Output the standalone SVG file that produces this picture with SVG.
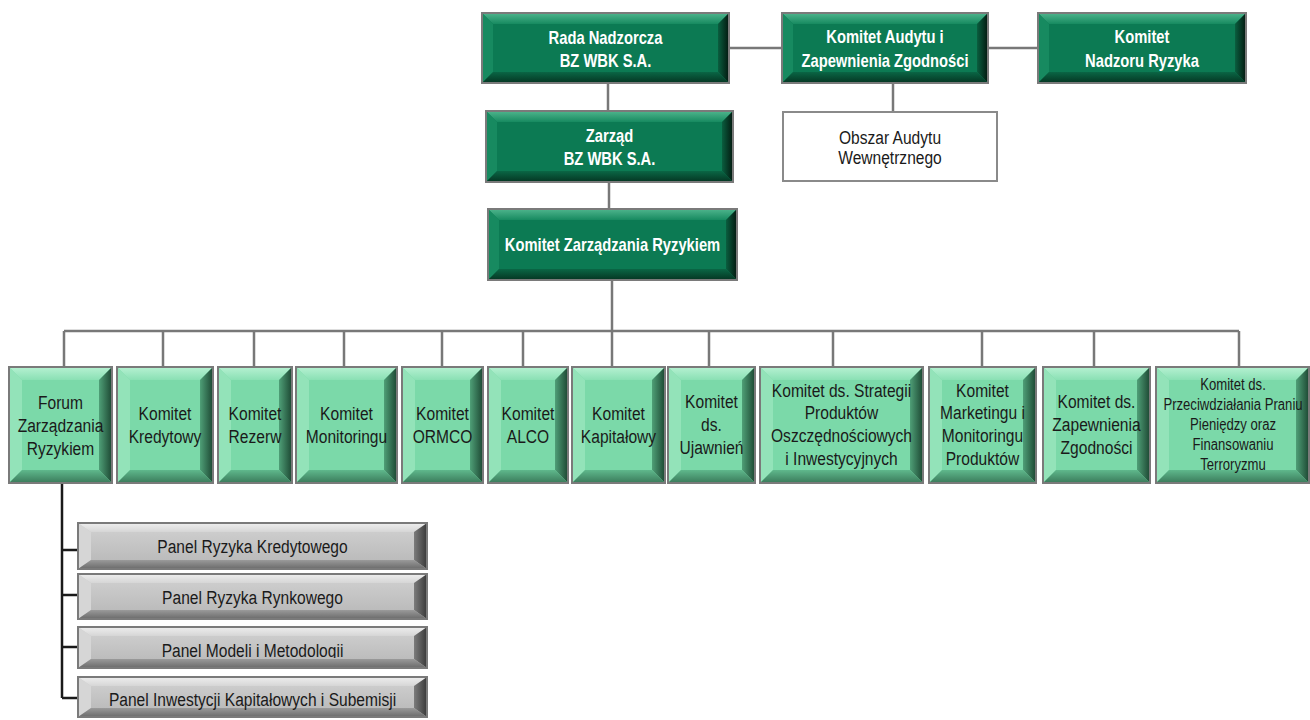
<svg xmlns="http://www.w3.org/2000/svg" width="1310" height="720" viewBox="0 0 1310 720">
<defs>
<linearGradient id="dkT" x1="0" y1="0" x2="0" y2="1"><stop offset="0" stop-color="#4fb58d"/><stop offset="1" stop-color="#178a60"/></linearGradient>
<linearGradient id="dkR" x1="0" y1="0" x2="1" y2="0"><stop offset="0" stop-color="#0a5e3f"/><stop offset="1" stop-color="#03180f"/></linearGradient>
<linearGradient id="dkB" x1="0" y1="0" x2="0" y2="1"><stop offset="0" stop-color="#0a6645"/><stop offset="1" stop-color="#053522"/></linearGradient>
<linearGradient id="ltT" x1="0" y1="0" x2="0" y2="1"><stop offset="0" stop-color="#b6f1d2"/><stop offset="1" stop-color="#8ae0b4"/></linearGradient>
<linearGradient id="ltR" x1="0" y1="0" x2="1" y2="0"><stop offset="0" stop-color="#4f9f77"/><stop offset="1" stop-color="#1c4732"/></linearGradient>
<linearGradient id="ltB" x1="0" y1="0" x2="0" y2="1"><stop offset="0" stop-color="#5fb88c"/><stop offset="1" stop-color="#3a7a5a"/></linearGradient>
<linearGradient id="gyF" x1="0" y1="0" x2="0" y2="1"><stop offset="0" stop-color="#d2d2d2"/><stop offset="1" stop-color="#b6b6b6"/></linearGradient>
<linearGradient id="gyT" x1="0" y1="0" x2="0" y2="1"><stop offset="0" stop-color="#eeeeee"/><stop offset="1" stop-color="#d6d6d6"/></linearGradient>
<linearGradient id="gyR" x1="0" y1="0" x2="1" y2="0"><stop offset="0" stop-color="#7c7c7c"/><stop offset="1" stop-color="#383838"/></linearGradient>
<linearGradient id="gyB" x1="0" y1="0" x2="0" y2="1"><stop offset="0" stop-color="#9a9a9a"/><stop offset="1" stop-color="#6a6a6a"/></linearGradient>
<clipPath id="clipP3"><rect x="-200" y="627" width="400" height="31"/></clipPath>
<style>
text{font-family:"Liberation Sans",Arial,sans-serif;text-anchor:middle}
.dk .face{fill:#0c7a53}.dk .t{fill:url(#dkT)}.dk .l{fill:#178a60}.dk .r{fill:url(#dkR)}.dk .b{fill:url(#dkB)}
.dk text{fill:#ffffff;font-weight:bold;font-size:18px}
.lt .face{fill:#7bd9a9}.lt .t{fill:url(#ltT)}.lt .l{fill:#93e3b9}.lt .r{fill:url(#ltR)}.lt .b{fill:url(#ltB)}
.lt text,.gy text,.wh text{fill:#1a1a1a;font-size:19px}
.lt text.sm{font-size:16px}
.gy .face{fill:url(#gyF)}.gy .t{fill:url(#gyT)}.gy .l{fill:#d6d6d6}.gy .r{fill:url(#gyR)}.gy .b{fill:url(#gyB)}
.bd{fill:none;stroke:#7a7a7a;stroke-width:2}
.wh rect{fill:#ffffff;stroke:#8a8a8a;stroke-width:2}
.conn path{fill:none;stroke:#787878;stroke-width:2.5}
.conn path.blk{stroke:#1a1a1a;stroke-width:2.5}
</style>
</defs>

<g id="connectors" class="conn">
<path d="M729 48H782"/>
<path d="M988 48H1038"/>
<path d="M608 83V111"/>
<path d="M893 83V112"/>
<path d="M609 182V209"/>
<path d="M612 280V367"/>
<path d="M64 331H1239"/>
<path d="M64 331V367M163 331V367M254 331V367M344 331V367M442 331V367M523 331V367M709 331V367M833 331V367M982 331V367M1094 331V367M1239 331V367"/>
<path class="blk" d="M62 483V698M62 550H78M62 595H78M62 647H78M62 698H78"/>
</g>

<g id="rada" class="dk">
<rect class="face" x="482" y="13" width="247" height="70"/>
<polygon class="t" points="482,13 729,13 718,24 493,24"/>
<polygon class="l" points="482,13 493,24 493,72 482,83"/>
<polygon class="r" points="729,13 729,83 718,72 718,24"/>
<polygon class="b" points="482,83 729,83 718,72 493,72"/>
<rect class="bd" x="482" y="13" width="247" height="70"/>
<g transform="translate(605.5 0) scale(0.82 1)">
<text x="0" y="44">Rada Nadzorcza</text>
<text x="0" y="67">BZ WBK S.A.</text>
</g>
</g>

<g id="audyt" class="dk">
<rect class="face" x="782" y="13" width="206" height="70"/>
<polygon class="t" points="782,13 988,13 977,24 793,24"/>
<polygon class="l" points="782,13 793,24 793,72 782,83"/>
<polygon class="r" points="988,13 988,83 977,72 977,24"/>
<polygon class="b" points="782,83 988,83 977,72 793,72"/>
<rect class="bd" x="782" y="13" width="206" height="70"/>
<g transform="translate(885 0) scale(0.82 1)">
<text x="0" y="43">Komitet Audytu i</text>
<text x="0" y="67">Zapewnienia Zgodności</text>
</g>
</g>

<g id="nadzor" class="dk">
<rect class="face" x="1038" y="13" width="208" height="70"/>
<polygon class="t" points="1038,13 1246,13 1235,24 1049,24"/>
<polygon class="l" points="1038,13 1049,24 1049,72 1038,83"/>
<polygon class="r" points="1246,13 1246,83 1235,72 1235,24"/>
<polygon class="b" points="1038,83 1246,83 1235,72 1049,72"/>
<rect class="bd" x="1038" y="13" width="208" height="70"/>
<g transform="translate(1142 0) scale(0.82 1)">
<text x="0" y="43">Komitet</text>
<text x="0" y="67">Nadzoru Ryzyka</text>
</g>
</g>

<g id="zarzad" class="dk">
<rect class="face" x="486" y="111" width="247" height="71"/>
<polygon class="t" points="486,111 733,111 722,122 497,122"/>
<polygon class="l" points="486,111 497,122 497,171 486,182"/>
<polygon class="r" points="733,111 733,182 722,171 722,122"/>
<polygon class="b" points="486,182 733,182 722,171 497,171"/>
<rect class="bd" x="486" y="111" width="247" height="71"/>
<g transform="translate(609.5 0) scale(0.82 1)">
<text x="0" y="142">Zarząd</text>
<text x="0" y="165">BZ WBK S.A.</text>
</g>
</g>

<g id="obszar" class="wh">
<rect x="783" y="112" width="214" height="69"/>
<g transform="translate(890 0) scale(0.82 1)">
<text x="0" y="144">Obszar Audytu</text>
<text x="0" y="164">Wewnętrznego</text>
</g>
</g>

<g id="kzr" class="dk">
<rect class="face" x="488" y="209" width="249" height="71"/>
<polygon class="t" points="488,209 737,209 726,220 499,220"/>
<polygon class="l" points="488,209 499,220 499,269 488,280"/>
<polygon class="r" points="737,209 737,280 726,269 726,220"/>
<polygon class="b" points="488,280 737,280 726,269 499,269"/>
<rect class="bd" x="488" y="209" width="249" height="71"/>
<g transform="translate(612.5 0) scale(0.82 1)">
<text x="0" y="251">Komitet Zarządzania Ryzykiem</text>
</g>
</g>

<g id="forum" class="lt">
<rect class="face" x="9" y="367" width="103" height="116"/>
<polygon class="t" points="9,367 112,367 99,380 22,380"/>
<polygon class="l" points="9,367 22,380 22,470 9,483"/>
<polygon class="r" points="112,367 112,483 99,470 99,380"/>
<polygon class="b" points="9,483 112,483 99,470 22,470"/>
<rect class="bd" x="9" y="367" width="103" height="116"/>
<g transform="translate(60.5 0) scale(0.82 1)">
<text x="0" y="409">Forum</text>
<text x="0" y="432">Zarządzania</text>
<text x="0" y="455">Ryzykiem</text>
</g>
</g>

<g id="kredyt" class="lt">
<rect class="face" x="117" y="367" width="96" height="116"/>
<polygon class="t" points="117,367 213,367 200,380 130,380"/>
<polygon class="l" points="117,367 130,380 130,470 117,483"/>
<polygon class="r" points="213,367 213,483 200,470 200,380"/>
<polygon class="b" points="117,483 213,483 200,470 130,470"/>
<rect class="bd" x="117" y="367" width="96" height="116"/>
<g transform="translate(165 0) scale(0.82 1)">
<text x="0" y="420.5">Komitet</text>
<text x="0" y="443.5">Kredytowy</text>
</g>
</g>

<g id="rezerw" class="lt">
<rect class="face" x="218" y="367" width="74" height="116"/>
<polygon class="t" points="218,367 292,367 279,380 231,380"/>
<polygon class="l" points="218,367 231,380 231,470 218,483"/>
<polygon class="r" points="292,367 292,483 279,470 279,380"/>
<polygon class="b" points="218,483 292,483 279,470 231,470"/>
<rect class="bd" x="218" y="367" width="74" height="116"/>
<g transform="translate(255 0) scale(0.82 1)">
<text x="0" y="420.5">Komitet</text>
<text x="0" y="443.5">Rezerw</text>
</g>
</g>

<g id="monitoring" class="lt">
<rect class="face" x="296" y="367" width="101" height="116"/>
<polygon class="t" points="296,367 397,367 384,380 309,380"/>
<polygon class="l" points="296,367 309,380 309,470 296,483"/>
<polygon class="r" points="397,367 397,483 384,470 384,380"/>
<polygon class="b" points="296,483 397,483 384,470 309,470"/>
<rect class="bd" x="296" y="367" width="101" height="116"/>
<g transform="translate(346.5 0) scale(0.82 1)">
<text x="0" y="420.5">Komitet</text>
<text x="0" y="443.5">Monitoringu</text>
</g>
</g>

<g id="ormco" class="lt">
<rect class="face" x="402" y="367" width="81" height="116"/>
<polygon class="t" points="402,367 483,367 470,380 415,380"/>
<polygon class="l" points="402,367 415,380 415,470 402,483"/>
<polygon class="r" points="483,367 483,483 470,470 470,380"/>
<polygon class="b" points="402,483 483,483 470,470 415,470"/>
<rect class="bd" x="402" y="367" width="81" height="116"/>
<g transform="translate(442.5 0) scale(0.82 1)">
<text x="0" y="420.5">Komitet</text>
<text x="0" y="443.5">ORMCO</text>
</g>
</g>

<g id="alco" class="lt">
<rect class="face" x="488" y="367" width="80" height="116"/>
<polygon class="t" points="488,367 568,367 555,380 501,380"/>
<polygon class="l" points="488,367 501,380 501,470 488,483"/>
<polygon class="r" points="568,367 568,483 555,470 555,380"/>
<polygon class="b" points="488,483 568,483 555,470 501,470"/>
<rect class="bd" x="488" y="367" width="80" height="116"/>
<g transform="translate(528 0) scale(0.82 1)">
<text x="0" y="420.5">Komitet</text>
<text x="0" y="443.5">ALCO</text>
</g>
</g>

<g id="kapital" class="lt">
<rect class="face" x="572" y="367" width="93" height="116"/>
<polygon class="t" points="572,367 665,367 652,380 585,380"/>
<polygon class="l" points="572,367 585,380 585,470 572,483"/>
<polygon class="r" points="665,367 665,483 652,470 652,380"/>
<polygon class="b" points="572,483 665,483 652,470 585,470"/>
<rect class="bd" x="572" y="367" width="93" height="116"/>
<g transform="translate(618.5 0) scale(0.82 1)">
<text x="0" y="420.5">Komitet</text>
<text x="0" y="443.5">Kapitałowy</text>
</g>
</g>

<g id="ujawnien" class="lt">
<rect class="face" x="668" y="367" width="87" height="116"/>
<polygon class="t" points="668,367 755,367 742,380 681,380"/>
<polygon class="l" points="668,367 681,380 681,470 668,483"/>
<polygon class="r" points="755,367 755,483 742,470 742,380"/>
<polygon class="b" points="668,483 755,483 742,470 681,470"/>
<rect class="bd" x="668" y="367" width="87" height="116"/>
<g transform="translate(711.5 0) scale(0.82 1)">
<text x="0" y="408">Komitet</text>
<text x="0" y="431">ds.</text>
<text x="0" y="454">Ujawnień</text>
</g>
</g>

<g id="strategia" class="lt">
<rect class="face" x="760" y="367" width="163" height="116"/>
<polygon class="t" points="760,367 923,367 910,380 773,380"/>
<polygon class="l" points="760,367 773,380 773,470 760,483"/>
<polygon class="r" points="923,367 923,483 910,470 910,380"/>
<polygon class="b" points="760,483 923,483 910,470 773,470"/>
<rect class="bd" x="760" y="367" width="163" height="116"/>
<g transform="translate(841.5 0) scale(0.82 1)">
<text x="0" y="397">Komitet ds. Strategii</text>
<text x="0" y="419.5">Produktów</text>
<text x="0" y="442">Oszczędnościowych</text>
<text x="0" y="465">i Inwestycyjnych</text>
</g>
</g>

<g id="marketing" class="lt">
<rect class="face" x="929" y="367" width="107" height="116"/>
<polygon class="t" points="929,367 1036,367 1023,380 942,380"/>
<polygon class="l" points="929,367 942,380 942,470 929,483"/>
<polygon class="r" points="1036,367 1036,483 1023,470 1023,380"/>
<polygon class="b" points="929,483 1036,483 1023,470 942,470"/>
<rect class="bd" x="929" y="367" width="107" height="116"/>
<g transform="translate(982.5 0) scale(0.82 1)">
<text x="0" y="397">Komitet</text>
<text x="0" y="419.5">Marketingu i</text>
<text x="0" y="442">Monitoringu</text>
<text x="0" y="465">Produktów</text>
</g>
</g>

<g id="zgodnosc" class="lt">
<rect class="face" x="1043" y="367" width="107" height="116"/>
<polygon class="t" points="1043,367 1150,367 1137,380 1056,380"/>
<polygon class="l" points="1043,367 1056,380 1056,470 1043,483"/>
<polygon class="r" points="1150,367 1150,483 1137,470 1137,380"/>
<polygon class="b" points="1043,483 1150,483 1137,470 1056,470"/>
<rect class="bd" x="1043" y="367" width="107" height="116"/>
<g transform="translate(1096.5 0) scale(0.82 1)">
<text x="0" y="408">Komitet ds.</text>
<text x="0" y="431">Zapewnienia</text>
<text x="0" y="454">Zgodności</text>
</g>
</g>

<g id="aml" class="lt">
<rect class="face" x="1156" y="367" width="153" height="116"/>
<polygon class="t" points="1156,367 1309,367 1296,380 1169,380"/>
<polygon class="l" points="1156,367 1169,380 1169,470 1156,483"/>
<polygon class="r" points="1309,367 1309,483 1296,470 1296,380"/>
<polygon class="b" points="1156,483 1309,483 1296,470 1169,470"/>
<rect class="bd" x="1156" y="367" width="153" height="116"/>
<g transform="translate(1233 0) scale(0.82 1)">
<text class="sm" x="0" y="390">Komitet ds.</text>
<text class="sm" x="0" y="410">Przeciwdziałania Praniu</text>
<text class="sm" x="0" y="430">Pieniędzy oraz</text>
<text class="sm" x="0" y="450">Finansowaniu</text>
<text class="sm" x="0" y="470">Terroryzmu</text>
</g>
</g>

<g id="panel1" class="gy">
<rect class="face" x="78" y="523" width="349" height="46"/>
<polygon class="t" points="78,523 427,523 414,532 91,532"/>
<polygon class="l" points="78,523 91,532 91,560 78,569"/>
<polygon class="r" points="427,523 427,569 414,560 414,532"/>
<polygon class="b" points="78,569 427,569 414,560 91,560"/>
<rect class="bd" x="78" y="523" width="349" height="46"/>
<g transform="translate(252.5 0) scale(0.82 1)">
<text x="0" y="553">Panel Ryzyka Kredytowego</text>
</g>
</g>

<g id="panel2" class="gy">
<rect class="face" x="78" y="574" width="349" height="45"/>
<polygon class="t" points="78,574 427,574 414,583 91,583"/>
<polygon class="l" points="78,574 91,583 91,610 78,619"/>
<polygon class="r" points="427,574 427,619 414,610 414,583"/>
<polygon class="b" points="78,619 427,619 414,610 91,610"/>
<rect class="bd" x="78" y="574" width="349" height="45"/>
<g transform="translate(252.5 0) scale(0.82 1)">
<text x="0" y="604">Panel Ryzyka Rynkowego</text>
</g>
</g>

<g id="panel3" class="gy">
<rect class="face" x="78" y="627" width="349" height="41"/>
<polygon class="t" points="78,627 427,627 414,636 91,636"/>
<polygon class="l" points="78,627 91,636 91,659 78,668"/>
<polygon class="r" points="427,627 427,668 414,659 414,636"/>
<polygon class="b" points="78,668 427,668 414,659 91,659"/>
<rect class="bd" x="78" y="627" width="349" height="41"/>
<g transform="translate(252.5 0) scale(0.82 1)">
<text x="0" y="657" clip-path="url(#clipP3)">Panel Modeli i Metodologii</text>
</g>
</g>

<g id="panel4" class="gy">
<rect class="face" x="78" y="677" width="349" height="40"/>
<polygon class="t" points="78,677 427,677 414,686 91,686"/>
<polygon class="l" points="78,677 91,686 91,708 78,717"/>
<polygon class="r" points="427,677 427,717 414,708 414,686"/>
<polygon class="b" points="78,717 427,717 414,708 91,708"/>
<rect class="bd" x="78" y="677" width="349" height="40"/>
<g transform="translate(252.5 0) scale(0.82 1)">
<text x="0" y="706">Panel Inwestycji Kapitałowych i Subemisji</text>
</g>
</g>
</svg>
